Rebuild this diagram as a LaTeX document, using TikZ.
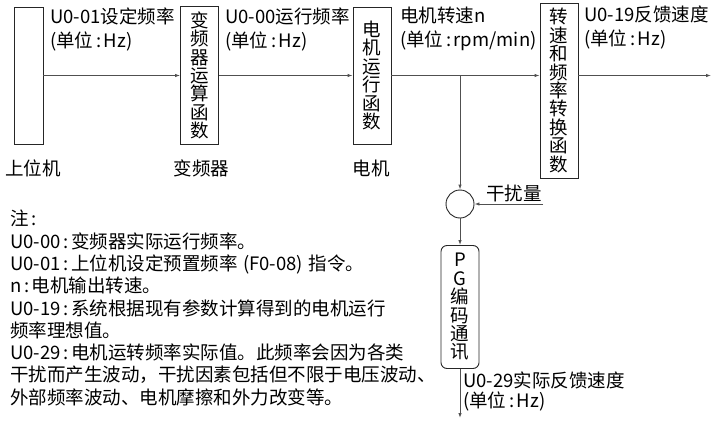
\documentclass[tikz,border=0pt]{standalone}
\usepackage{fontspec}
\setmainfont{Noto Sans CJK SC}
\usetikzlibrary{arrows.meta,positioning}
\definecolor{Wire}{HTML}{505050}
\definecolor{Edge}{HTML}{262626}
\newcommand{\sepcolon}{\hspace{0.14em}:\hspace{0.14em}}

\begin{document}
\begin{tikzpicture}[x=1pt,y=-1pt,font=\fontsize{18.5}{18.4}\selectfont,
  every node/.style={inner sep=0pt},
  blk/.style={draw=Edge,line width=0.9pt,minimum width=38pt,align=center},
  flow/.style={draw=Wire,line width=0.9pt,-{Latex[length=5pt,width=3.5pt]}},
  lbl/.style={anchor=west,align=left,font=\fontsize{18.5}{24}\selectfont}]
  \useasboundingbox (0,0) rectangle (711,420);
  % blocks
  \node[blk,minimum width=29pt,minimum height=137pt] (host) at (28.5,75.5) {};
  \node[blk,minimum height=138pt] (vfd) at (199.5,75.5) {变\\频\\器\\运\\算\\函\\数};
  \node[blk,minimum height=137pt] (motor) at (372,75.5) {电\\机\\运\\行\\函\\数};
  \node[blk,minimum height=175pt] (conv) at (559,90.5) {转\\速\\和\\频\\率\\转\\换\\函\\数};
  \node[draw=Edge,line width=0.9pt,circle,minimum size=28pt] (sum) at (460,204) {};
  \node[blk,rounded corners=6pt,minimum height=123pt] (pg) at (460,307) {P\\G\\编\\码\\通\\讯};
  % names under the blocks
  \node (hostname) at (33,168) {上位机};
  \node (vfdname) at (201.5,168) {变频器};
  \node (motorname) at (371,168) {电机};
  % signals
  \coordinate (tap) at (sum.north |- motor.east);
  \coordinate (out) at (711,75.5);
  \coordinate (noise) at (543,204);
  \coordinate (fb) at (460,418);
  \draw[flow] (host) -- (vfd);
  \draw[flow] (vfd) -- (motor);
  \draw[flow] (motor.east) -- (motor.east -| conv.west);
  \draw[flow] (conv.east |- out) -- (out);
  \draw[flow] (tap) -- (sum);
  \draw[flow] (noise) -- (sum);
  \draw[flow] (sum) -- (pg);
  \draw[flow] (pg) -- (fb);
  % signal labels
  \node[lbl] (setfreq) at (50,29) {U0-01设定频率\\(单位\sepcolon Hz)};
  \node[lbl] (runfreq) at (225,29) {U0-00运行频率\\(单位\sepcolon Hz)};
  \node[lbl] (speed) at (400,29) {电机转速n\\(单位\sepcolon rpm/min)};
  \node[lbl] (fbspeed) at (584,27) {U0-19反馈速度\\(单位\sepcolon Hz)};
  \node[anchor=east] (noiselbl) at (542,193) {干扰量};
  \node[lbl,font=\fontsize{18.5}{20}\selectfont] (actual) at (463,391) {U0-29实际反馈速度\\(单位\sepcolon Hz)};
  % notes
  \node[anchor=north west,align=left,font=\fontsize{18.5}{22.3}\selectfont] (notes) at (10,210) {%
    注\sepcolon\\
    U0-00\sepcolon 变频器实际运行频率。\\
    U0-01\sepcolon 上位机设定预置频率\hspace{0.3em}(F0-08)\hspace{0.3em}指令。\\
    n\sepcolon 电机输出转速。\\
    U0-19\sepcolon 系统根据现有参数计算得到的电机运行\\
    频率理想值。\\
    U0-29\sepcolon 电机运转频率实际值。此频率会因为各类\\
    干扰而产生波动，干扰因素包括但不限于电压波动、\\
    外部频率波动、电机摩擦和外力改变等。};
\end{tikzpicture}
\end{document}
